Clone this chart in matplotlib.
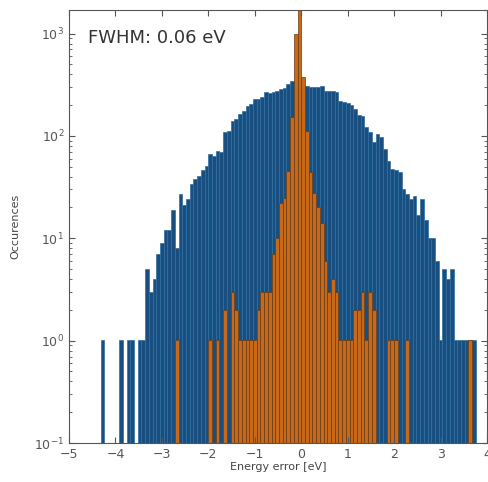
import numpy as np
import matplotlib
matplotlib.use("Agg")
import matplotlib.pyplot as plt

# bin setup: 0.08 eV wide bins, left edges from -4.32 eV
bin_width = 0.08
first_edge = -4.32

# counts per bin (blue = wide distribution)
blue_counts = [1, 0, 0, 0, 0, 1, 0, 1, 1, 0,
               1, 1, 5, 3, 4, 7, 9, 12, 12, 19,
               8, 27, 21, 24, 34, 38, 41, 46, 51, 67,
               64, 71, 69, 109, 111, 140, 147, 164, 176, 195,
               205, 228, 232, 240, 268, 262, 270, 275, 287, 295,
               320, 345, 335, 330, 315, 307, 300, 300, 302, 307,
               275, 272, 275, 268, 218, 215, 210, 200, 184, 160,
               157, 122, 109, 87, 105, 98, 74, 57, 48, 46,
               44, 30, 27, 24, 26, 17, 24, 15, 10, 10,
               6, 1, 5, 4, 5, 1, 1, 1, 1, 1,
               1, 0]

# orange = narrow distribution (FWHM 0.06 eV)
orange_counts = [0, 0, 0, 0, 0, 0, 0, 0, 0, 0,
                 0, 0, 0, 0, 0, 0, 0, 0, 0, 0,
                 1, 0, 0, 0, 0, 0, 0, 0, 0, 1,
                 0, 1, 0, 2, 0, 3, 2, 1, 1, 1,
                 1, 1, 2, 3, 3, 3, 7, 10, 22, 25,
                 45, 153, 990, 2500, 376, 112, 44, 28, 20, 14,
                 6, 3, 4, 3, 1, 1, 1, 1, 2, 2,
                 3, 1, 3, 2, 0, 0, 0, 1, 1, 1,
                 0, 0, 1, 0, 0, 0, 0, 0, 0, 0,
                 0, 0, 0, 0, 0, 0, 0, 0, 0, 1,
                 0, 0]

x_ticks = [-5, -4, -3, -2, -1, 0, 1, 2, 3, 4]
y_ticks = [0.1, 1, 10, 100, 1000]
y_ticklabels = [r'$10^{-1}$', r'$10^{0}$', r'$10^{1}$', r'$10^{2}$', r'$10^{3}$']

centers = first_edge + bin_width * (np.arange(len(blue_counts)) + 0.5)
blue = np.array(blue_counts, dtype=float)
orange = np.array(orange_counts, dtype=float)

fig = plt.figure(figsize=(4.88, 4.82), dpi=100)
ax = fig.add_axes([0.1414, 0.0809, 0.8566, 0.8983])
ax.set_yscale('log')

mb = blue > 0
ax.bar(centers[mb], blue[mb], width=bin_width, bottom=0.01,
       color='#184f80', edgecolor='#2f6e9e', linewidth=0.5)
mo = orange > 0
ax.bar(centers[mo], orange[mo], width=bin_width, bottom=0.01,
       color='#c8691a', edgecolor='#6a3a12', linewidth=0.5)

ax.set_xlim(-5, 4)
ax.set_ylim(0.1, 1700)
ax.set_xticks(x_ticks)
ax.set_xticklabels([str(t).replace('-', '\u2212') for t in x_ticks])
ax.set_yticks(y_ticks)
ax.set_yticklabels(y_ticklabels)

ax.tick_params(axis='both', which='both', direction='in', top=True, right=True,
               colors='#555555', labelsize=9)
ax.tick_params(which='major', length=4)
ax.tick_params(which='minor', length=2)
for s in ax.spines.values():
    s.set_color('#555555')
    s.set_linewidth(0.8)

ax.set_xlabel('Energy error [eV]', fontsize=8, color='#444444', labelpad=1)
ax.set_ylabel('Occurences', fontsize=8, color='#444444', labelpad=10)

ax.text(0.045, 0.935, 'FWHM: 0.06 eV', transform=ax.transAxes, fontsize=13,
        color='#333333', va='center', ha='left')

fig.savefig('out.png', dpi=100)
